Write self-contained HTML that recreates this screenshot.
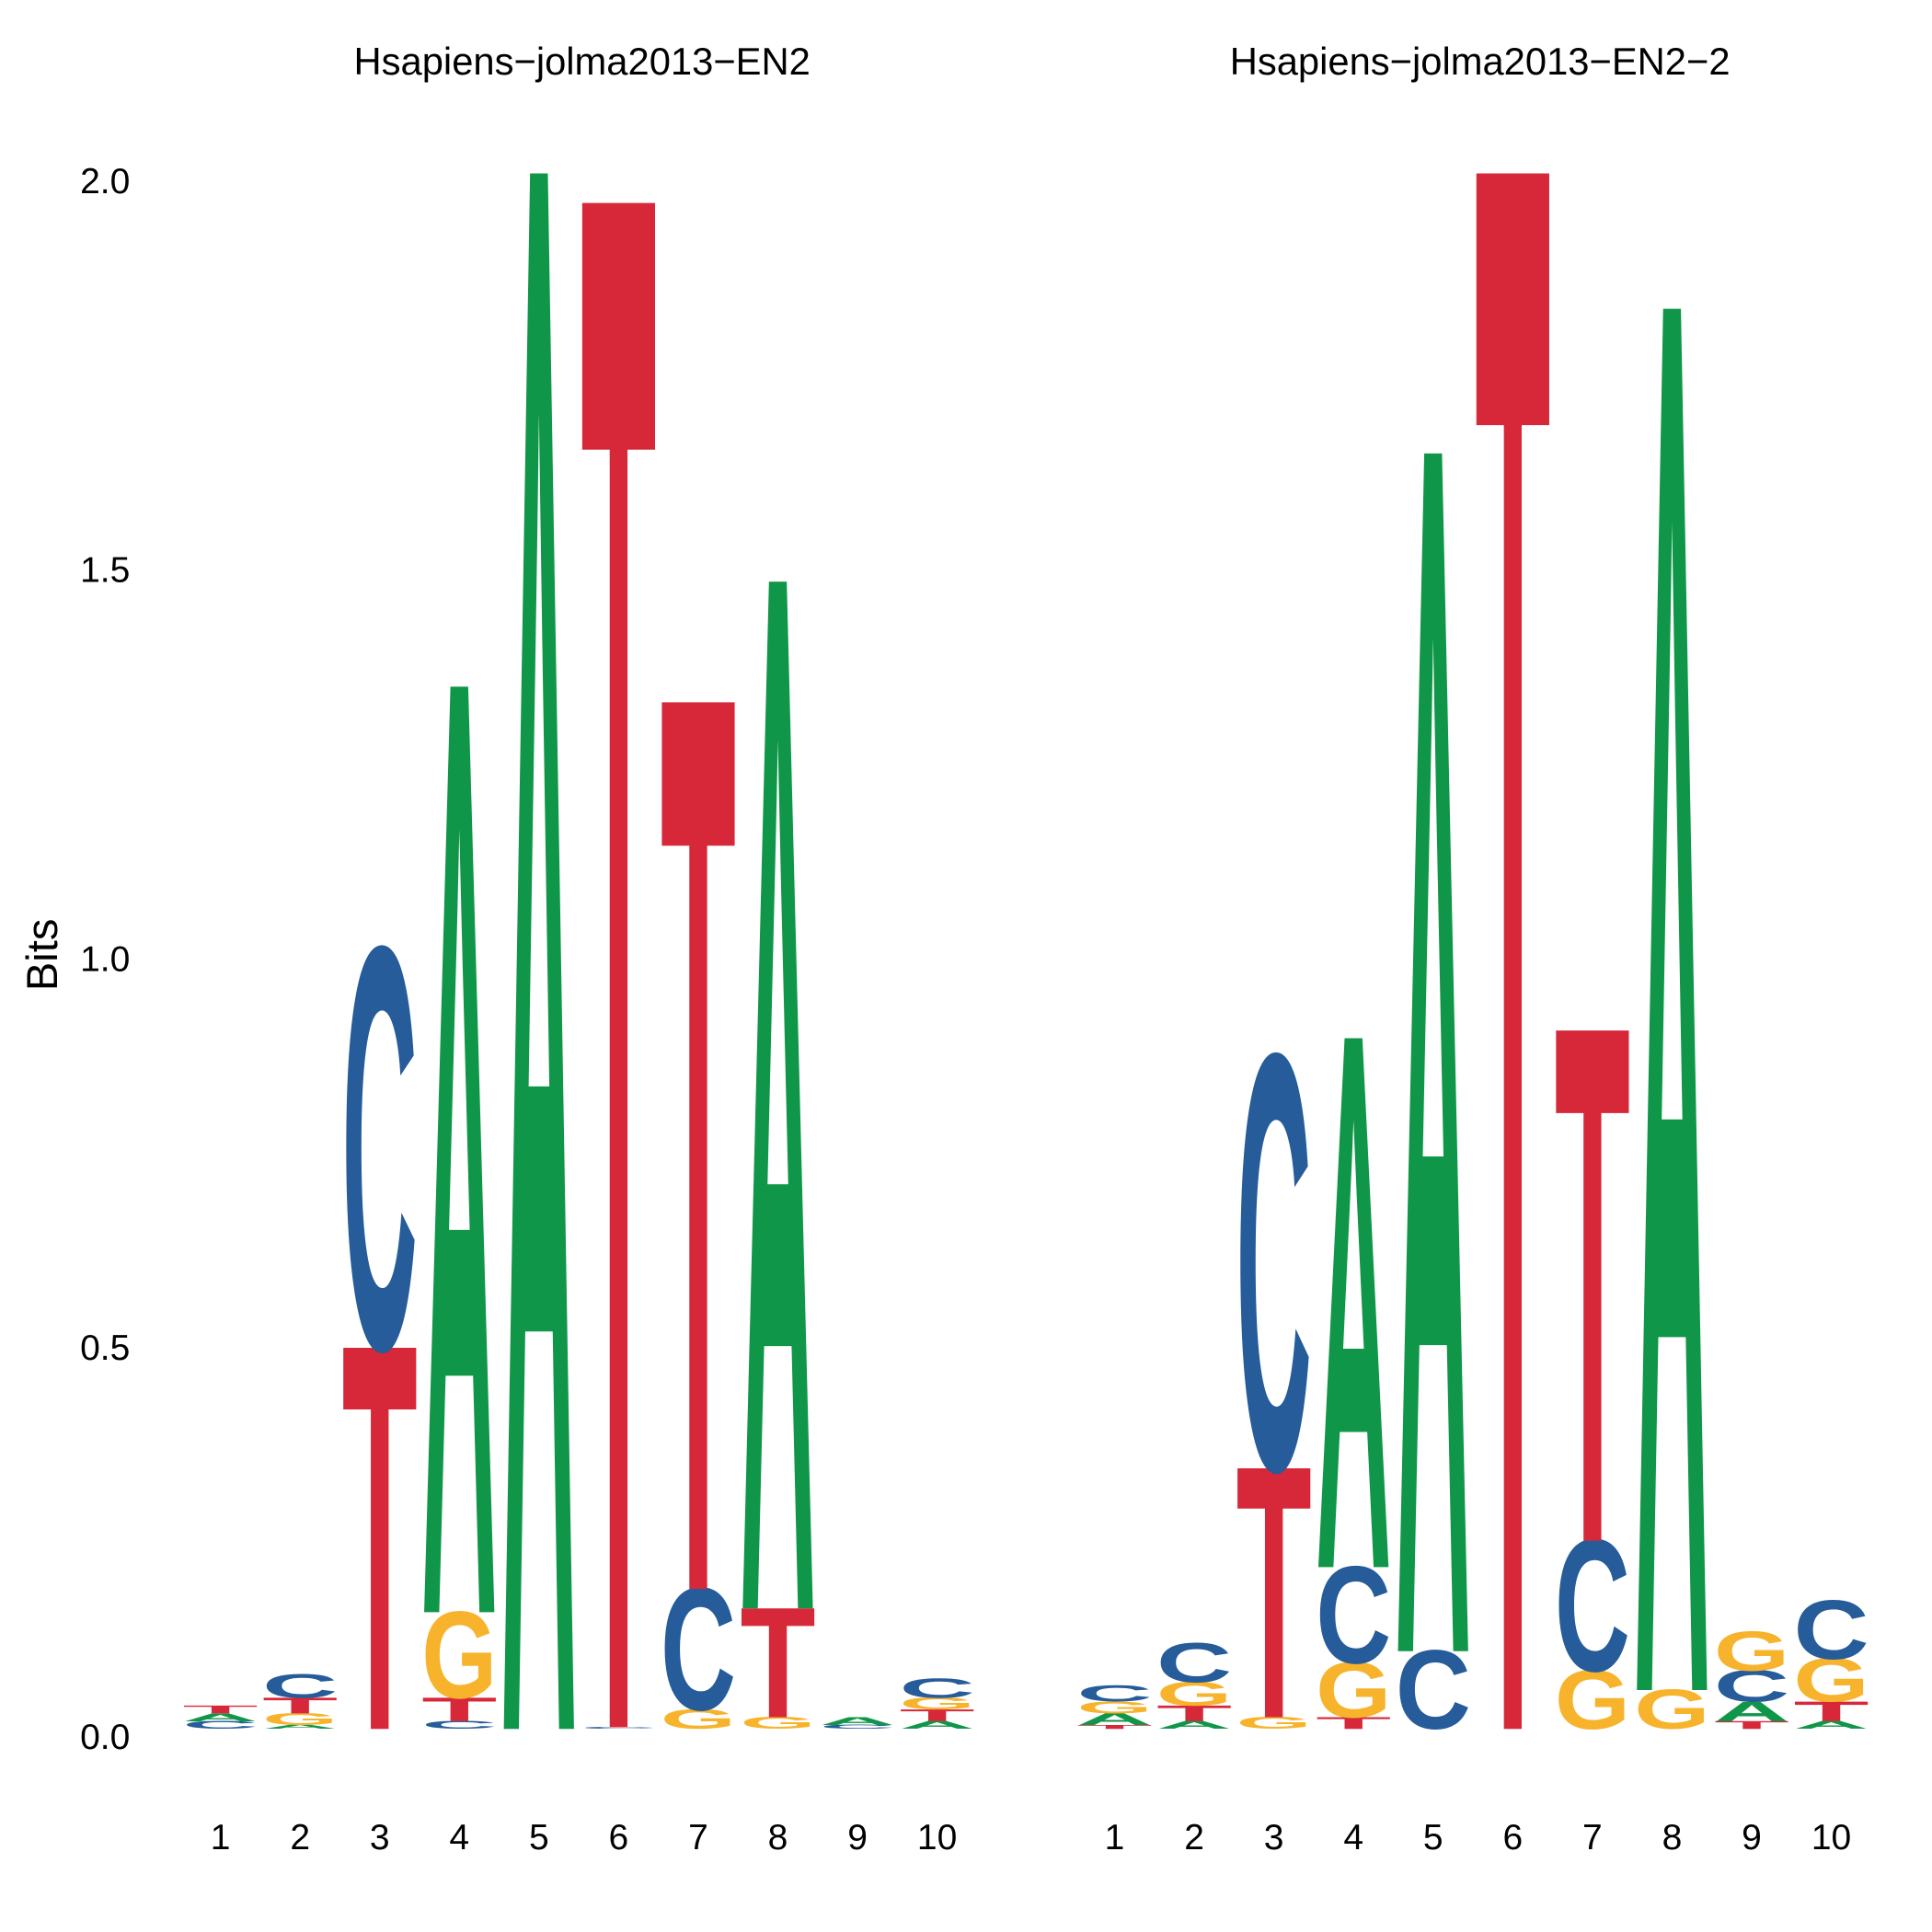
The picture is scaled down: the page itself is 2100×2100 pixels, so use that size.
<!DOCTYPE html>
<html><head><meta charset="utf-8"><style>
html,body{margin:0;padding:0;background:#fff;width:2100px;height:2100px;overflow:hidden;}
svg{display:block;font-family:"Liberation Sans",sans-serif;overflow:hidden;}
</style></head><body>
<svg id="chart" width="2100" height="2100" viewBox="0 0 1560 1560" xmlns="http://www.w3.org/2000/svg">
<g id="axes"></g>
<g id="marks"></g>
</svg>
<script>
// Data: stacks bottom -> top, [letter, bits]
const panelTitles = ["Hsapiens\u2212jolma2013\u2212EN2", "Hsapiens\u2212jolma2013\u2212EN2\u22122"];
const positionLabels = ["1","2","3","4","5","6","7","8","9","10"];
const yTicks = [0, 0.5, 1.0, 1.5, 2.0];
const yTickLabels = ["0.0","0.5","1.0","1.5","2.0"];
const stacksPanel1 = [
  [["C",0.01],["A",0.01],["T",0.01]],
  [["A",0.005],["G",0.015],["T",0.02],["C",0.03]],
  [["T",0.49],["C",0.51]],
  [["C",0.01],["T",0.03],["G",0.11],["A",1.19]],
  [["A",2.0]],
  [["C",0.002],["T",1.96]],
  [["G",0.025],["C",0.155],["T",1.14]],
  [["G",0.015],["T",0.14],["A",1.32]],
  [["C",0.005],["A",0.01]],
  [["A",0.01],["T",0.015],["G",0.015],["C",0.025]]
];
const stacksPanel2 = [
  [["T",0.005],["A",0.015],["G",0.015],["C",0.02]],
  [["A",0.01],["T",0.02],["G",0.03],["C",0.05]],
  [["G",0.015],["T",0.32],["C",0.527]],
  [["T",0.015],["G",0.07],["C",0.123],["A",0.68]],
  [["C",0.10],["A",1.54]],
  [["T",2.0]],
  [["G",0.075],["C",0.167],["T",0.656]],
  [["G",0.05],["A",1.776]],
  [["T",0.01],["A",0.025],["C",0.04],["G",0.05]],
  [["A",0.01],["T",0.025],["G",0.055],["C",0.075]]
];

const colors = {A:"#109648",C:"#255C99",G:"#F7B32B",T:"#D62839"};
const adv = {A:72.2,C:72.2,G:77.8,T:61.1};
const NS = "http://www.w3.org/2000/svg";
const y0 = 1396, pxPerBit = 628;
const yScale = v => y0 - v*pxPerBit;
const panelStarts = [178, 900];
const step = 64.3;
const xScale = (p,i) => panelStarts[p] + step*i;
const letterW = 61;
const capH = 68.8;

const axes = document.getElementById("axes");
const marks = document.getElementById("marks");

function txt(parent, x, y, s, size, anchor){
  const t = document.createElementNS(NS,"text");
  t.setAttribute("x",x); t.setAttribute("y",y);
  t.setAttribute("font-size",size);
  t.setAttribute("text-anchor",anchor||"middle");
  t.setAttribute("fill","#000");
  t.textContent = s;
  parent.appendChild(t);
  return t;
}

// Y axis
yTicks.forEach((v,i)=>{
  const t = txt(axes, 105, yScale(v)+16, yTickLabels[i], 29, "end");
  
  
});
const yt = txt(axes, 0, 0, "Bits", 35, "middle");
yt.setAttribute("transform","translate(46,771) rotate(-90)");



// Titles and x labels
const titleX = [470, 1195];
[0,1].forEach(p=>{
  const t = txt(axes, titleX[p], 60, panelTitles[p], 31, "middle");
  
  
  positionLabels.forEach((lab,i)=>{
    const l = txt(axes, xScale(p,i), 1493, lab, 29, "middle");
    
    
  });
});

// Letters
[stacksPanel1, stacksPanel2].forEach((stacks,p)=>{
  stacks.forEach((stack,i)=>{
    let cum = 0;
    const cx = xScale(p,i);
    stack.forEach(([L,h])=>{
      const yb = yScale(cum), yt2 = yScale(cum+h);
      cum += h;
      const hp = yb - yt2;
      if (hp <= 0) return;
      const t = document.createElementNS(NS,"text");
      t.setAttribute("x",0); t.setAttribute("y",0);
      t.setAttribute("font-size",100);
      t.setAttribute("font-weight","bold");
      t.setAttribute("fill",colors[L]);
      t.setAttribute("textLength", adv[L]*0.97);
      t.setAttribute("lengthAdjust","spacingAndGlyphs");
      const sx = letterW/(adv[L]*0.97), sy = hp/capH;
      t.setAttribute("transform",`translate(${cx-letterW/2},${yb}) scale(${sx},${sy})`);
      t.textContent = L;
      
      
      marks.appendChild(t);
    });
  });
});
</script>
</body></html>
